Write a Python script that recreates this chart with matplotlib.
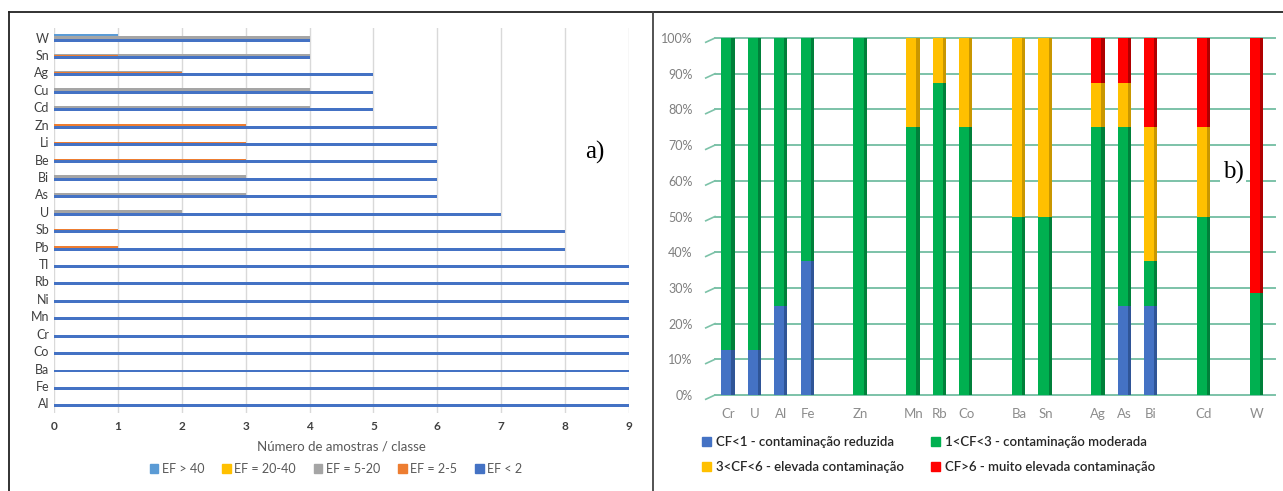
import numpy as np
import matplotlib
matplotlib.use("Agg")
import matplotlib.pyplot as plt
from matplotlib.patches import Patch
from matplotlib.lines import Line2D

plt.rcParams['font.family'] = ['Lato', 'DejaVu Sans']

# ---- a) enrichment factor classes (samples per class) ----
elements_a = ['Al', 'Fe', 'Ba', 'Co', 'Cr', 'Mn', 'Ni', 'Rb', 'Tl', 'Pb', 'Sb', 'U',
              'As', 'Bi', 'Be', 'Li', 'Zn', 'Cd', 'Cu', 'Ag', 'Sn', 'W']
ef_lt2 = [9, 9, 9, 9, 9, 9, 9, 9, 9, 8, 8, 7, 6, 6, 6, 6, 6, 5, 5, 5, 4, 4]
ef_2_5 = [0, 0, 0, 0, 0, 0, 0, 0, 0, 1, 1, 0, 0, 0, 3, 3, 3, 0, 0, 2, 1, 0]
ef_5_20 = [0, 0, 0, 0, 0, 0, 0, 0, 0, 0, 0, 2, 3, 3, 0, 0, 0, 4, 4, 2, 4, 4]
ef_20_40 = [0] * 22
ef_gt40 = [0, 0, 0, 0, 0, 0, 0, 0, 0, 0, 0, 0, 0, 0, 0, 0, 0, 0, 0, 0, 0, 1]
labels_a = ['EF > 40', 'EF = 20-40', 'EF = 5-20', 'EF = 2-5', 'EF < 2']

# ---- b) contamination factor classes (%) ----
elements_b = ['Cr', 'U', 'Al', 'Fe', '', 'Zn', '', 'Mn', 'Rb', 'Co', '', 'Ba', 'Sn', '',
              'Ag', 'As', 'Bi', '', 'Cd', '', 'W']
cf_lt1 = [12.5, 12.5, 25, 37.5, 0, 0, 0, 0, 0, 0, 0, 0, 0, 0, 0, 25, 25, 0, 0, 0, 0]
cf_1_3 = [87.5, 87.5, 75, 62.5, 0, 100, 0, 75, 87.5, 75, 0, 50, 50, 0, 75, 50, 12.5, 0, 50, 0, 28.6]
cf_3_6 = [0, 0, 0, 0, 0, 0, 0, 25, 12.5, 25, 0, 50, 50, 0, 12.5, 12.5, 37.5, 0, 25, 0, 0]
cf_gt6 = [0, 0, 0, 0, 0, 0, 0, 0, 0, 0, 0, 0, 0, 0, 12.5, 12.5, 25, 0, 25, 0, 71.4]
labels_b = ['CF<1 - contaminação reduzida', '1<CF<3 - contaminação moderada',
            '3<CF<6 - elevada contaminação', 'CF>6 - muito elevada contaminação']

W, H = 1283, 491
fig = plt.figure(figsize=(W / 100, H / 100), dpi=100)
fig.patch.set_facecolor('white')

# panel frames
fig.add_artist(Line2D([9 / W, 9 / W], [0, 1 - 12 / H], color='#222222', lw=1.3))
fig.add_artist(Line2D([9 / W, 1], [1 - 12 / H, 1 - 12 / H], color='#222222', lw=1.3))
fig.add_artist(Line2D([653 / W, 653 / W], [0, 1 - 12 / H], color='#444444', lw=1.3))

# ---------------- left chart ----------------
ax1 = fig.add_axes([54 / W, 1 - 413 / H, 575 / W, 385 / H])
cols_a = ['#5B9BD5', '#FFC000', '#A5A5A5', '#ED7D31', '#4472C4']
series_a = [ef_gt40, ef_20_40, ef_5_20, ef_2_5, ef_lt2]
y = np.arange(len(elements_a))
step = 0.07
for i, (vals, c) in enumerate(zip(series_a, cols_a)):
    off = (2 - i) * step
    ax1.barh(y + off, vals, height=0.17, color=c, zorder=2 + i)

ax1.set_xlim(0, 9)
ax1.set_ylim(-0.55, len(elements_a) - 0.45)
ax1.set_xticks(range(10))
ax1.set_yticks(y)
ax1.set_yticklabels(elements_a, fontsize=9, color='#404040')
ax1.tick_params(axis='both', length=0)
ax1.tick_params(axis='x', labelsize=8.5, labelcolor='#404040', pad=6)
for t in ax1.get_xticklabels():
    t.set_fontweight('bold')
ax1.xaxis.grid(True, color='#D9D9D9', lw=1)
ax1.set_axisbelow(True)
for s in ax1.spines.values():
    s.set_visible(False)
ax1.set_xlabel('Número de amostras / classe', fontsize=9.5, color='#595959', labelpad=6)
ax1.text(595, H - 152, 'a)', transform=None, fontsize=18, family='Liberation Serif',
         ha='center', va='center', zorder=10,
         bbox=dict(facecolor='white', edgecolor='none', pad=8))

fig.legend([Patch(color=c) for c in cols_a], labels_a, loc='center',
           bbox_to_anchor=(336 / W, 1 - 469 / H), ncol=5, frameon=False, fontsize=9,
           handlelength=0.7, handleheight=0.7, handletextpad=0.3, columnspacing=1.4,
           labelcolor='#595959')

# ---------------- right chart ----------------
ax2 = fig.add_axes([715 / W, 1 - 395 / H, 555 / W, 357 / H])
cols_b = ['#4472C4', '#00B050', '#FFC000', '#FF0000']
side_b = ['#2F5597', '#00803A', '#C99700', '#B00000']
series_b = [cf_lt1, cf_1_3, cf_3_6, cf_gt6]
x = np.arange(len(elements_b))
bottom = np.zeros(len(x))
for vals, c, sc in zip(series_b, cols_b, side_b):
    vals = np.array(vals, dtype=float)
    ax2.bar(x - 0.07, vals, width=0.38, bottom=bottom, color=c, zorder=3)
    ax2.bar(x + 0.18, vals, width=0.12, bottom=bottom, color=sc, zorder=3)
    bottom += vals

ticks = np.arange(0, 101, 10)
grid_c = '#7CC2A8'
for v in ticks:
    ax2.plot([-0.5, len(x) - 0.3], [v, v], color=grid_c, lw=1.4, zorder=1, clip_on=False)
    ax2.plot([-0.85, -0.5], [v - 1.2, v], color=grid_c, lw=1.2, zorder=1, clip_on=False)

ax2.set_xlim(-0.5, len(x) - 0.5)
ax2.set_ylim(0, 100)
ax2.set_yticks(ticks)
ax2.set_yticklabels([f'{v}%' for v in ticks], fontsize=9, color='#7F7F7F')
ax2.set_xticks(x)
ax2.set_xticklabels(elements_b, fontsize=9.5, color='#8C8C8C')
ax2.tick_params(axis='y', length=0, pad=16)
ax2.tick_params(axis='x', length=0, pad=9)
for s in ax2.spines.values():
    s.set_visible(False)
ax2.text(1233, H - 172, 'b)', transform=None, fontsize=18, family='Liberation Serif',
         ha='center', va='center', zorder=10,
         bbox=dict(facecolor='white', edgecolor='none', pad=2))

# legend filled row by row as in the reference
order = [0, 2, 1, 3]
fig.legend([Patch(color=cols_b[i]) for i in order], [labels_b[i] for i in order],
           loc='upper left', bbox_to_anchor=(690 / W, 1 - 424 / H), ncol=2,
           frameon=False, prop={'size': 9.5, 'weight': 'semibold'}, handlelength=0.7,
           handleheight=0.7, handletextpad=0.4, columnspacing=2.0, labelspacing=1.0,
           labelcolor='#262626')

fig.savefig('out.png', dpi=100)
